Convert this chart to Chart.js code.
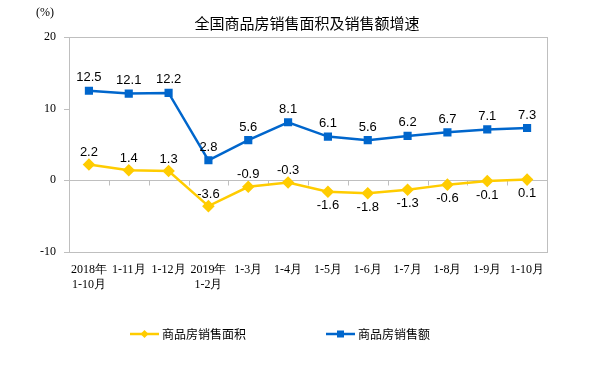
<!DOCTYPE html>
<html><head><meta charset="utf-8">
<script src="https://cdn.jsdelivr.net/npm/chart.js@4/dist/chart.umd.min.js"></script>
<style>html,body{margin:0;padding:0;background:#fff}#wrap{width:605px;height:368px;position:relative}</style>
</head><body><div id="wrap"><canvas id="c" width="605" height="368"></canvas></div>
<script>
const categories = [["2018年","1-10月"],"1-11月","1-12月",["2019年","1-2月"],"1-3月","1-4月","1-5月","1-6月","1-7月","1-8月","1-9月","1-10月"];
const areaGrowth = [2.2,1.4,1.3,-3.6,-0.9,-0.3,-1.6,-1.8,-1.3,-0.6,-0.1,0.1];
const salesGrowth = [12.5,12.1,12.2,2.8,5.6,8.1,6.1,5.6,6.2,6.7,7.1,7.3];
const areaLabelPos = ["above","above","above","above","above","above","below","below","below","below","below","below"];
const yTicks = [20,10,0,-10];
const titleText = "全国商品房销售面积及销售额增速";
const unitText = "(%)";
const seriesNames = ["商品房销售面积","商品房销售额"];

const YELLOW = "#FFCC00", BLUE = "#0066CC", GRAY = "#BFBFBF";
const SERIF = "'Liberation Serif','DejaVu Serif',serif";
const SANS = "'Liberation Sans',Arial,sans-serif";
const CJK = "'Noto Sans CJK SC',sans-serif";

const custom = {
  id: "custom",
  beforeDatasetsDraw(chart) {
    const {ctx, chartArea: a, scales: {x, y}} = chart;
    ctx.save();
    ctx.strokeStyle = GRAY; ctx.lineWidth = 1;
    const y0 = Math.round(y.getPixelForValue(0)) + 0.5;
    ctx.beginPath(); ctx.moveTo(a.left, y0); ctx.lineTo(a.right, y0); ctx.stroke();
    const n = categories.length, w = (a.right - a.left) / n;
    for (let i = 1; i < n; i++) {
      const px = Math.round(a.left + i * w) + 0.5;
      ctx.beginPath(); ctx.moveTo(px, y0); ctx.lineTo(px, y0 + 5); ctx.stroke();
    }
    yTicks.forEach(v => {
      const py = Math.round(y.getPixelForValue(v)) + 0.5;
      ctx.beginPath(); ctx.moveTo(a.left - 5, py); ctx.lineTo(a.left, py); ctx.stroke();
    });
    ctx.strokeRect(Math.round(a.left) + 0.5, Math.round(a.top) + 0.5, Math.round(a.right - a.left), Math.round(a.bottom - a.top));
    ctx.restore();
  },
  afterDatasetsDraw(chart) {
    const {ctx} = chart;
    ctx.save();
    ctx.font = "13px " + SANS; ctx.fillStyle = "#000"; ctx.textAlign = "center"; ctx.textBaseline = "middle";
    chart.getDatasetMeta(1).data.forEach((p, i) => {
      ctx.fillText(salesGrowth[i].toFixed(1), p.x, p.y - 13);
    });
    chart.getDatasetMeta(0).data.forEach((p, i) => {
      const off = areaLabelPos[i] === "above" ? -12 : 14;
      ctx.fillText(areaGrowth[i].toFixed(1), p.x, p.y + off);
    });
    // title
    ctx.font = "15px " + CJK; ctx.fillStyle = "#000";
    ctx.fillText(titleText, 307, 23);
    ctx.font = "12px " + SERIF; ctx.textAlign = "left";
    ctx.fillText(unitText, 36, 13);
    // legend
    const items = [[130, YELLOW, "rectRot", seriesNames[0]], [326, BLUE, "rect", seriesNames[1]]];
    items.forEach(([lx, col, st, txt]) => {
      const ly = 334;
      ctx.strokeStyle = col; ctx.lineWidth = 2.5;
      ctx.beginPath(); ctx.moveTo(lx, ly); ctx.lineTo(lx + 29, ly); ctx.stroke();
      ctx.fillStyle = col;
      if (st === "rect") ctx.fillRect(lx + 14.5 - 3.5, ly - 3.5, 7, 7);
      else { ctx.beginPath(); ctx.moveTo(lx + 14.5, ly - 4); ctx.lineTo(lx + 18.5, ly); ctx.lineTo(lx + 14.5, ly + 4); ctx.lineTo(lx + 10.5, ly); ctx.closePath(); ctx.fill(); }
      ctx.fillStyle = "#000"; ctx.font = "12px " + CJK; ctx.textAlign = "left";
      ctx.fillText(txt, lx + 32, ly);
    });
    ctx.restore();
  }
};

new Chart(document.getElementById("c"), {
  type: "line",
  data: {
    labels: categories,
    datasets: [
      {label: seriesNames[0], data: areaGrowth, borderColor: YELLOW, backgroundColor: YELLOW, borderWidth: 2.5, pointStyle: "rectRot", pointRadius: 4.5, pointHoverRadius: 4.5, tension: 0},
      {label: seriesNames[1], data: salesGrowth, borderColor: BLUE, backgroundColor: BLUE, borderWidth: 2.5, pointStyle: "rect", pointRadius: 4, pointHoverRadius: 4, tension: 0}
    ]
  },
  options: {
    responsive: false, animation: false, devicePixelRatio: 1,
    layout: {padding: {left: 0, right: 58, top: 37, bottom: 56}},
    plugins: {legend: {display: false}, title: {display: false}, tooltip: {enabled: false}},
    scales: {
      x: {
        offset: true,
        grid: {display: false, drawTicks: false},
        border: {display: false},
        ticks: {color: "#000", font: {family: SERIF, size: 12}, maxRotation: 0, autoSkip: false, padding: 11},
        afterFit(s) { s.height = 60; }
      },
      y: {
        min: -10, max: 20,
        afterBuildTicks(s) { s.ticks = yTicks.map(v => ({value: v})); },
        grid: {display: false, drawTicks: false},
        border: {display: false},
        ticks: {color: "#000", font: {family: SERIF, size: 12}, padding: 13},
        afterFit(s) { s.width = 69; }
      }
    }
  },
  plugins: [custom]
});
</script></body></html>
